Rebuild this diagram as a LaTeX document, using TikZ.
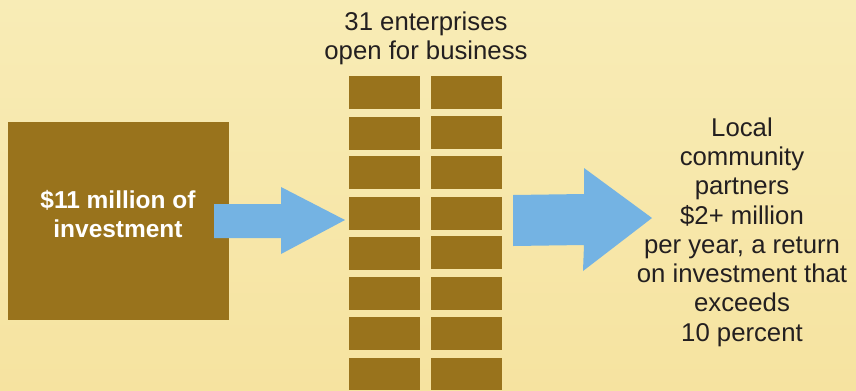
\documentclass[tikz,border=0pt]{standalone}
\usepackage{fontspec}
\setmainfont{Liberation Sans}
\definecolor{bgtop}{HTML}{F8ECB6}
\definecolor{bgbot}{HTML}{F6E3A0}
\definecolor{brick}{HTML}{99731C}
\definecolor{flow}{HTML}{74B3E3}
\definecolor{ink}{HTML}{231F20}
\tikzset{
    label text/.style={align=center, inner sep=0pt, text=ink, font=\fontsize{18.3}{20.8}\selectfont},
    box text/.style={align=center, inner sep=0pt, text=white, font=\bfseries\fontsize{17.4}{20.8}\selectfont}
}
\begin{document}
\begin{tikzpicture}[x=0.025cm, y=-0.025cm]
    % background
    \shade[top color=bgtop, bottom color=bgbot] (0,0) rectangle (856,390);
    \useasboundingbox (0,0) rectangle (856,390);

    % investment
    \fill[brick] (8,122) rectangle (229,320);
    \node[box text] (invest) at (118,214) {\$11 million of\\investment};

    % enterprises
    \node[label text] (title) at (426,38) {31 enterprises\\open for business};
    \fill[brick] (349,76) rectangle (420,109);
    \fill[brick] (431,76) rectangle (502,109);
    \fill[brick] (349,117) rectangle (420,150);
    \fill[brick] (431,116) rectangle (502,149);
    \fill[brick] (349,156) rectangle (420,189);
    \fill[brick] (431,156) rectangle (502,189);
    \fill[brick] (349,197) rectangle (420,230);
    \fill[brick] (431,197) rectangle (502,230);
    \fill[brick] (349,237) rectangle (420,270);
    \fill[brick] (431,236) rectangle (502,269);
    \fill[brick] (349,277) rectangle (420,310);
    \fill[brick] (431,277) rectangle (502,310);
    \fill[brick] (349,317) rectangle (420,350);
    \fill[brick] (431,317) rectangle (502,350);
    \fill[brick] (349,358) rectangle (420,390);
    \fill[brick] (431,358) rectangle (502,390);

    % arrows
    \fill[flow] (214,204) -- (281,204) -- (281,187) -- (345,220) -- (281,254) -- (281,238) -- (214,238) -- cycle;
    \fill[flow] (513,195) -- (584,194) -- (584,168) -- (652,218) -- (583,271) -- (584,245) -- (513,246) -- cycle;

    % return
    \node[label text] (partners) at (742,232) {Local\\community\\partners\\\$2+ million\\per year, a return\\on investment that\\exceeds\\10 percent};
\end{tikzpicture}
\end{document}
